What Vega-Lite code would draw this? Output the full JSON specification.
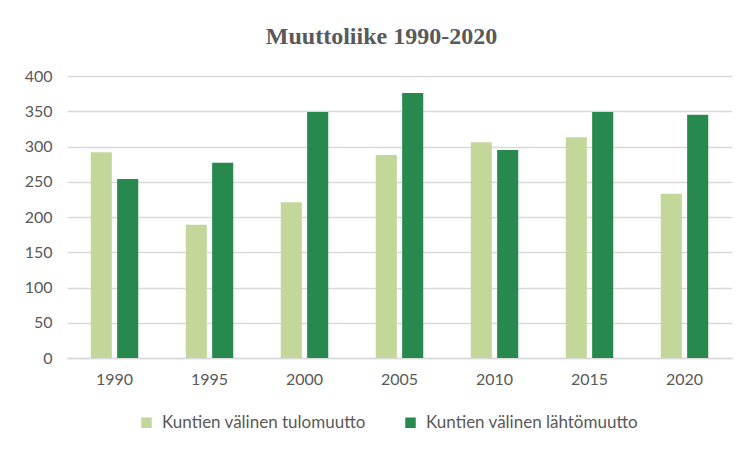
{
  "$schema": "https://vega.github.io/schema/vega-lite/v6.json",
  "autosize": {"type": "none"},
  "width": 665,
  "height": 282,
  "padding": {"left": 67, "top": 76, "right": 11, "bottom": 92},
  "background": "white",
  "title": {
    "text": "Muuttoliike 1990-2020",
    "font": "Liberation Serif",
    "fontSize": 24,
    "fontWeight": "bold",
    "color": "#595959",
    "anchor": "middle",
    "frame": "group",
    "dx": -18,
    "offset": 19
  },
  "data": {
    "values": [
      {"vuosi": "1990", "sarja": "Kuntien välinen tulomuutto", "arvo": 292},
      {"vuosi": "1990", "sarja": "Kuntien välinen lähtömuutto", "arvo": 254},
      {"vuosi": "1995", "sarja": "Kuntien välinen tulomuutto", "arvo": 189},
      {"vuosi": "1995", "sarja": "Kuntien välinen lähtömuutto", "arvo": 277},
      {"vuosi": "2000", "sarja": "Kuntien välinen tulomuutto", "arvo": 221},
      {"vuosi": "2000", "sarja": "Kuntien välinen lähtömuutto", "arvo": 349},
      {"vuosi": "2005", "sarja": "Kuntien välinen tulomuutto", "arvo": 288},
      {"vuosi": "2005", "sarja": "Kuntien välinen lähtömuutto", "arvo": 376},
      {"vuosi": "2010", "sarja": "Kuntien välinen tulomuutto", "arvo": 306},
      {"vuosi": "2010", "sarja": "Kuntien välinen lähtömuutto", "arvo": 295},
      {"vuosi": "2015", "sarja": "Kuntien välinen tulomuutto", "arvo": 313},
      {"vuosi": "2015", "sarja": "Kuntien välinen lähtömuutto", "arvo": 349},
      {"vuosi": "2020", "sarja": "Kuntien välinen tulomuutto", "arvo": 233},
      {"vuosi": "2020", "sarja": "Kuntien välinen lähtömuutto", "arvo": 345}
    ]
  },
  "mark": {"type": "bar"},
  "encoding": {
    "x": {
      "field": "vuosi",
      "type": "nominal",
      "title": null,
      "scale": {"paddingInner": 0.5, "paddingOuter": 0.25},
      "axis": {
        "labelAngle": 0,
        "ticks": false,
        "domainColor": "#d9d9d9",
        "domainWidth": 1.5,
        "labelPadding": 13,
        "labelFont": "Lato",
        "labelFontSize": 16,
        "labelColor": "#595959"
      }
    },
    "xOffset": {
      "field": "sarja",
      "type": "nominal",
      "sort": ["Kuntien välinen tulomuutto", "Kuntien välinen lähtömuutto"],
      "scale": {"paddingInner": 0.2, "paddingOuter": 0}
    },
    "y": {
      "field": "arvo",
      "type": "quantitative",
      "title": null,
      "scale": {"domain": [0, 400]},
      "axis": {
        "values": [0, 50, 100, 150, 200, 250, 300, 350, 400],
        "domain": false,
        "ticks": false,
        "gridColor": "#d9d9d9",
        "gridWidth": 1.5,
        "labelPadding": 15,
        "labelFont": "Lato",
        "labelFontSize": 16,
        "labelColor": "#595959"
      }
    },
    "color": {
      "field": "sarja",
      "type": "nominal",
      "sort": ["Kuntien välinen tulomuutto", "Kuntien välinen lähtömuutto"],
      "scale": {
        "domain": ["Kuntien välinen tulomuutto", "Kuntien välinen lähtömuutto"],
        "range": ["#c4d79b", "#28894f"]
      },
      "legend": {
        "title": null,
        "orient": "none",
        "direction": "horizontal",
        "legendX": 71,
        "legendY": 338,
        "symbolType": "square",
        "symbolSize": 110,
        "symbolStrokeWidth": 0,
        "labelFont": "Lato",
        "labelFontSize": 17,
        "labelColor": "#595959",
        "labelLimit": 0,
        "columnPadding": 36,
        "labelOffset": 7
      }
    }
  },
  "config": {
    "view": {"stroke": null}
  }
}
